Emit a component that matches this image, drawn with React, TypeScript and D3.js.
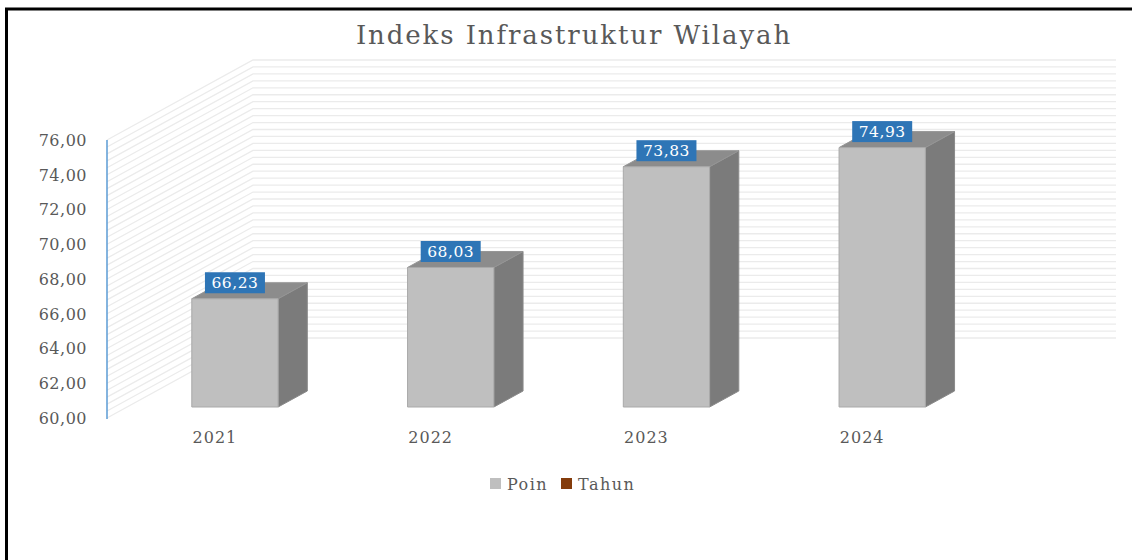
import React from 'react';
import * as d3 from 'd3';

const title = 'Indeks Infrastruktur Wilayah';
const years = ['2021', '2022', '2023', '2024'];
const poin = [66.23, 68.03, 73.83, 74.93];
const seriesNames = ['Poin', 'Tahun'];
const seriesColors = ['#BFBFBF', '#843C0C'];
const yTicks = [60, 62, 64, 66, 68, 70, 72, 74, 76];
const yMin = 60;
const yMax = 76;
const minorStep = 0.4;

const W = 1132;
const H = 560;
const FONT = "'DejaVu Serif', serif";

export default function App() {
  const y = d3.scaleLinear().domain([yMin, yMax]).range([418, 140]);
  const x = d3.scaleBand().domain(years).range([107, 970]).paddingInner(0).paddingOuter(0);
  const DX = 146;
  const DY = -80;
  const f0 = 0.1375;
  const f1 = 0.3375;
  const bw = x.bandwidth() * 0.4;
  const fmt = (v: number) => v.toFixed(2).replace('.', ',');
  const minor = d3.range(0, Math.round((yMax - yMin) / minorStep) + 1).map((i) => yMin + i * minorStep);
  const x0 = x.range()[0];
  const x1 = x.range()[1];

  return (
    <svg width={W} height={H} style={{ position: 'absolute', left: 0, top: 0, background: '#fff' }}>
      <rect x={0} y={0} width={W} height={H} fill="#fff" />
      {/* walls */}
      <g stroke="#EBEBEB" strokeWidth={1.3} fill="none">
        {minor.map((v, i) => (
          <path
            key={i}
            d={`M${x0},${y(v)} L${x0 + DX},${y(v) + DY} L${x1 + DX},${y(v) + DY}`}
          />
        ))}
      </g>
      {/* axis line */}
      <line x1={x0} x2={x0} y1={y(yMax)} y2={y(yMin) + 1} stroke="#5B9BD5" strokeWidth={1.5} />
      {/* y tick labels */}
      <g fontFamily={FONT} fontSize={16} fill="#595959" textAnchor="end">
        {yTicks.map((t) => (
          <text key={t} x={87} y={y(t)} dy="0.36em" letterSpacing={0.5}>
            {fmt(t)}
          </text>
        ))}
      </g>
      {/* category labels */}
      <g fontFamily={FONT} fontSize={16} fill="#595959" textAnchor="middle">
        {years.map((c) => (
          <text key={c} x={(x(c) as number) + x.bandwidth() / 2} y={443} letterSpacing={1}>
            {c}
          </text>
        ))}
      </g>
      {/* bars */}
      {years.map((c, i) => {
        const cx = (x(c) as number) + x.bandwidth() / 2;
        const l = cx - bw / 2;
        const r = cx + bw / 2;
        const yt = y(poin[i]);
        const yb = y(yMin);
        const ax = DX * f0, ay = DY * f0;
        const bx = DX * f1, by = DY * f1;
        const front = `M${l + ax},${yt + ay} L${r + ax},${yt + ay} L${r + ax},${yb + ay} L${l + ax},${yb + ay} Z`;
        const top = `M${l + ax},${yt + ay} L${l + bx},${yt + by} L${r + bx},${yt + by} L${r + ax},${yt + ay} Z`;
        const side = `M${r + ax},${yt + ay} L${r + bx},${yt + by} L${r + bx},${yb + by} L${r + ax},${yb + ay} Z`;
        return (
          <g key={c}>
            <path d={side} fill="#7B7B7B" stroke="#8A8A8A" strokeWidth={1} />
            <path d={top} fill="#8C8C8C" stroke="#959595" strokeWidth={1} />
            <path d={front} fill="#BFBFBF" stroke="#A9A9A9" strokeWidth={1} />
          </g>
        );
      })}
      {/* data labels */}
      {years.map((c, i) => {
        const cx = (x(c) as number) + x.bandwidth() / 2 + DX * f0;
        const ft = y(poin[i]) + DY * f0;
        const bwl = 60;
        const bh = 21;
        return (
          <g key={c}>
            <rect x={cx - bwl / 2} y={ft - 5.5 - bh} width={bwl} height={bh} fill="#2E75B6" />
            <text
              x={cx}
              y={ft - 5.5 - bh / 2}
              dy="0.36em"
              textAnchor="middle"
              fontFamily={FONT}
              fontSize={15.5}
              fill="#fff"
              letterSpacing={0.5}
            >
              {fmt(poin[i])}
            </text>
          </g>
        );
      })}
      {/* title */}
      <text x={574} y={44} textAnchor="middle" fontFamily={FONT} fontSize={26} fill="#595959" letterSpacing={1.9}>
        {title}
      </text>
      {/* legend */}
      <g fontFamily={FONT} fontSize={16} fill="#595959" letterSpacing={1.5}>
        <rect x={490} y={478} width={11} height={11} fill={seriesColors[0]} />
        <text x={507} y={490}>{seriesNames[0]}</text>
        <rect x={561} y={478} width={11} height={11} fill={seriesColors[1]} />
        <text x={578} y={490}>{seriesNames[1]}</text>
      </g>
      {/* border */}
      <path d={`M6.5,${H} L6.5,9 L${W},9`} fill="none" stroke="#000" strokeWidth={3} />
    </svg>
  );
}
